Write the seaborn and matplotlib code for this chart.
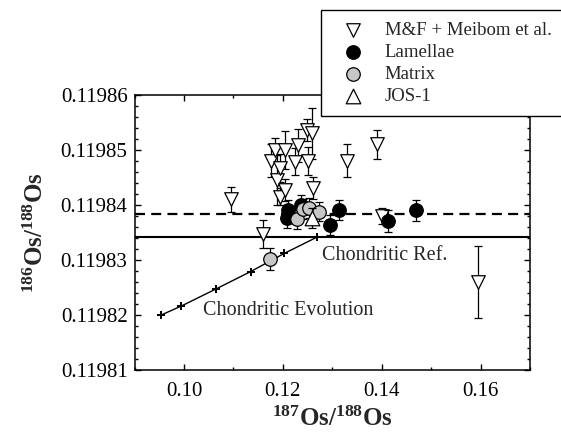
import matplotlib
matplotlib.use("Agg")
import matplotlib.pyplot as plt
from matplotlib.ticker import MultipleLocator, FixedLocator
import seaborn as sns
import numpy as np

# M&F + Meibom et al. (open down-triangles)
mf_x = [0.1095, 0.1160, 0.1177, 0.1184, 0.1188, 0.1194, 0.1194, 0.1204, 0.1204,
        0.1225, 0.1231, 0.1248, 0.1251, 0.1258, 0.1262, 0.1329, 0.1390, 0.1400, 0.1594]
mf_y = [0.1198410, 0.1198347, 0.1198480, 0.1198500, 0.1198445, 0.1198467, 0.1198415,
        0.1198500, 0.1198427, 0.1198479, 0.1198509, 0.1198536, 0.1198480, 0.1198530,
        0.1198430, 0.1198480, 0.1198510, 0.1198380, 0.1198260]
mf_err = [2.3e-6, 2.6e-6, 3.0e-6, 2.1e-6, 4.5e-6, 2.5e-6, 1.5e-6, 3.5e-6, 2.0e-6,
          2.5e-6, 3.0e-6, 2.0e-6, 2.5e-6, 4.6e-6, 2.0e-6, 3.0e-6, 2.7e-6, 1.5e-6, 6.6e-6]

# Lamellae (filled black circles)
lam_x = [0.1236, 0.1208, 0.1211, 0.1295, 0.1314, 0.1412, 0.1469]
lam_y = [0.1198400, 0.1198376, 0.1198391, 0.1198364, 0.1198391, 0.1198371, 0.1198390]
lam_err = [1.8e-6, 1.8e-6, 1.8e-6, 1.8e-6, 1.8e-6, 1.95e-6, 1.95e-6]

# Matrix (grey circles)
mat_x = [0.1174, 0.1228, 0.1240, 0.1252, 0.1273]
mat_y = [0.1198301, 0.1198374, 0.1198393, 0.1198395, 0.1198388]
mat_err = [2.0e-6, 1.8e-6, 1.8e-6, 1.8e-6, 1.8e-6]

# JOS-1 standard (open up-triangle)
jos_x = [0.1258]
jos_y = [0.1198377]
jos_err = [1.8e-6]

# Chondritic evolution path and reference values
evo_x = [0.0954, 0.0994, 0.1064, 0.1135, 0.1203, 0.1270]
evo_y = [0.1198200, 0.1198216, 0.1198247, 0.1198279, 0.1198312, 0.1198342]
chondritic_ref = 0.1198341
sample_mean = 0.1198383

x_ticks = [0.10, 0.12, 0.14, 0.16]
y_ticks = [0.11981, 0.11982, 0.11983, 0.11984, 0.11985, 0.11986]

sns.set_style("ticks")
plt.rcParams["font.family"] = ["Liberation Serif", "DejaVu Serif"]
plt.rcParams["mathtext.fontset"] = "custom"
plt.rcParams["mathtext.rm"] = "Liberation Serif"
plt.rcParams["mathtext.bf"] = "Liberation Serif:bold"
plt.rcParams["mathtext.default"] = "bf"

fig = plt.figure(figsize=(5.61, 4.41), dpi=100)
ax = fig.add_axes([0.2398, 0.1610, 0.7050, 0.6236])

# reference lines
ax.axhline(chondritic_ref, color="black", lw=1.5, zorder=1)
ax.axhline(sample_mean, color="black", lw=1.6, ls=(0, (4.5, 2.8)), zorder=1)

# chondritic evolution
sns.lineplot(x=evo_x, y=evo_y, ax=ax, color="black", lw=1.0, marker="P",
             markersize=5.5, markeredgewidth=0, sort=False, zorder=2)

eb_kw = dict(fmt="none", ecolor="black", elinewidth=0.9, capsize=3.2, capthick=0.9)

ax.errorbar(mf_x, mf_y, yerr=mf_err, zorder=3, **eb_kw)
sns.scatterplot(x=mf_x, y=mf_y, ax=ax, marker="v", s=95, color="white",
                edgecolor="black", linewidth=0.9, label="M&F + Meibom et al.", zorder=4)

ax.errorbar(lam_x, lam_y, yerr=lam_err, zorder=5, **eb_kw)
sns.scatterplot(x=lam_x, y=lam_y, ax=ax, marker="o", s=95, color="black",
                edgecolor="black", linewidth=0.9, label="Lamellae", zorder=6)

ax.errorbar(mat_x, mat_y, yerr=mat_err, zorder=7, **eb_kw)
sns.scatterplot(x=mat_x, y=mat_y, ax=ax, marker="o", s=95, color="#c6c6c6",
                edgecolor="black", linewidth=0.9, label="Matrix", zorder=8)

ax.errorbar(jos_x, jos_y, yerr=jos_err, zorder=9, **eb_kw)
sns.scatterplot(x=jos_x, y=jos_y, ax=ax, marker="^", s=110, color="white",
                edgecolor="black", linewidth=0.9, label="JOS-1", zorder=10)

ax.text(0.1280, 0.1198308, "Chondritic Ref.", fontsize=14.5, va="center", ha="left")
ax.text(0.1038, 0.1198209, "Chondritic Evolution", fontsize=14.5, va="center", ha="left")

ax.set_xlim(0.09, 0.17)
ax.set_ylim(0.11981, 0.11986)
ax.xaxis.set_major_locator(FixedLocator(x_ticks))
ax.set_xticklabels([f"{v:.2f}" for v in x_ticks])
ax.xaxis.set_minor_locator(MultipleLocator(0.01))
ax.yaxis.set_major_locator(FixedLocator(y_ticks))
ax.set_yticklabels([f"{v:.5f}" for v in y_ticks])
ax.yaxis.set_minor_locator(MultipleLocator(0.000002))

ax.tick_params(which="both", direction="in", top=True, right=True, width=1.0,
               labelsize=15, colors="black")
ax.tick_params(which="major", length=4.5)
ax.tick_params(which="minor", length=2.5)
ax.tick_params(axis="x", which="major", pad=9)
ax.tick_params(axis="y", which="major", pad=5)
for sp in ax.spines.values():
    sp.set_linewidth(1.1)
    sp.set_color("black")

ax.set_xlabel(r"$^{187}$Os/$^{188}$Os", fontsize=18, fontweight="bold", labelpad=4)
ax.set_ylabel(r"$^{186}$Os/$^{188}$Os", fontsize=18, fontweight="bold", labelpad=9)

handles, labels = ax.get_legend_handles_labels()
ax.get_legend().remove()
leg = fig.legend(handles, labels, loc="upper left", bbox_to_anchor=(0.572, 0.977),
                 fontsize=13.5, frameon=True, fancybox=False, edgecolor="black",
                 framealpha=1, borderpad=0.6, labelspacing=0.26, handletextpad=0.6,
                 borderaxespad=0, handlelength=2.2)
leg.get_frame().set_linewidth(1.0)

fig.savefig("out.png", dpi=100)
